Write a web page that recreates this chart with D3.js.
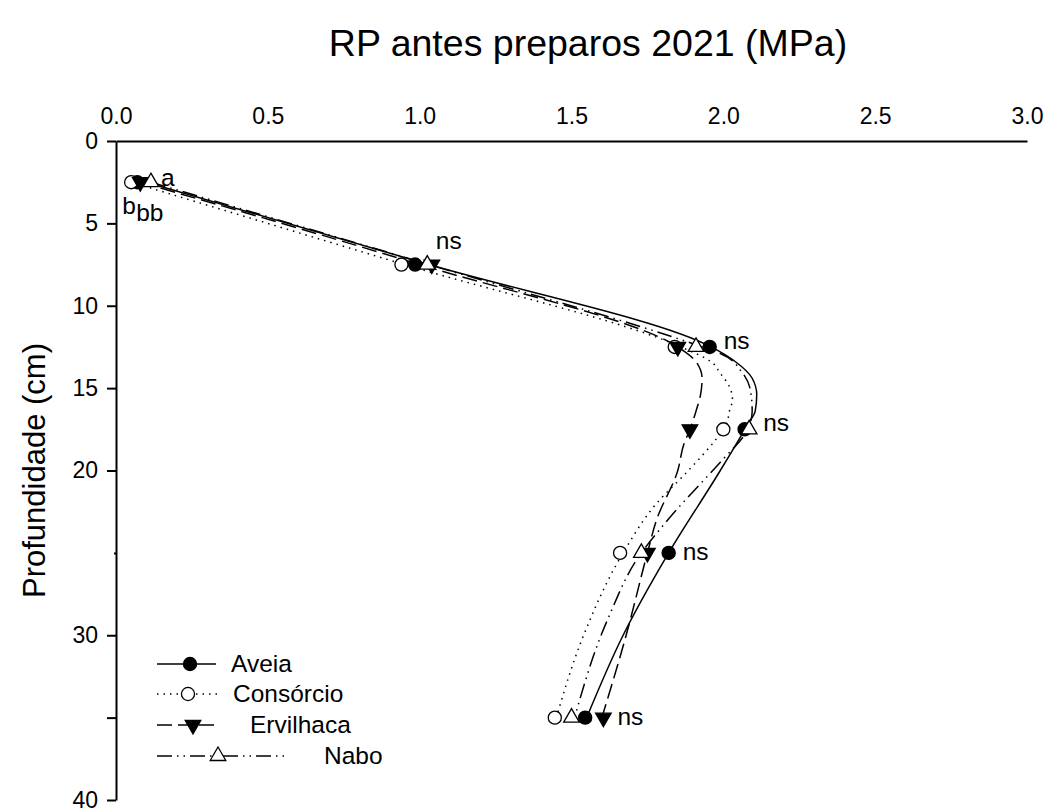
<!DOCTYPE html>
<html lang="pt">
<head>
<meta charset="UTF-8">
<title>RP antes preparos 2021</title>
<script src="https://d3js.org/d3.v7.min.js"></script>
<style>
  body { margin: 0; background: #fff; }
  svg { font-family: "Liberation Sans", Arial, sans-serif; }
  .axis path, .axis line { stroke: #000; stroke-width: 2px; }
  .axis text { font-size: 23px; fill: #000; }
  .fit { fill: none; stroke: #000; stroke-width: 1.5px; }
  .lbl { font-size: 24.5px; fill: #000; }
</style>
</head>
<body>
<div id="chart"></div>
<script>
// depths (cm) where RP was measured
const depths = [2.5, 7.5, 12.5, 17.5, 25, 35];

const aveia     = [0.07, 0.985, 1.955, 2.07, 1.82, 1.545];
const consorcio = [0.05, 0.94, 1.84, 2.00, 1.66, 1.445];
const ervilhaca = [0.08, 1.04, 1.85, 1.89, 1.75, 1.605];
const nabo      = [0.115, 1.025, 1.91, 2.085, 1.73, 1.50];

// fitted curves (depth, MPa)
const fitAveiaDepth = [2.5, 7.5, 12.5, 13.4, 14.4, 15.4, 16.4, 17.2, 18, 20, 25, 30, 35];
const fitAveia      = [0.10, 1.03, 1.96, 2.04, 2.095, 2.11, 2.105, 2.08, 2.055, 1.99, 1.82, 1.67, 1.55];
const fitConsDepth  = [2.5, 7.5, 12.5, 13.4, 14.1, 14.9, 15.7, 16.4, 17.2, 18, 20, 22, 25, 30, 35];
const fitCons       = [0.05, 0.95, 1.86, 1.96, 1.99, 2.02, 2.03, 2.02, 2.01, 1.98, 1.885, 1.78, 1.67, 1.54, 1.45];
const fitErvDepth   = [2.5, 7.5, 12.5, 13.4, 14.4, 15.4, 16.4, 17.5, 18.4, 20, 23, 25, 30, 35];
const fitErv        = [0.08, 1.0, 1.85, 1.91, 1.93, 1.925, 1.91, 1.89, 1.87, 1.85, 1.78, 1.75, 1.68, 1.60];
const fitNaboDepth  = [2.5, 7.5, 12.5, 12.9, 14, 15.2, 16.4, 17.5, 19.5, 20.9, 22.3, 23.6, 25, 29, 35];
const fitNabo       = [0.115, 1.03, 1.93, 1.99, 2.06, 2.09, 2.095, 2.08, 1.99, 1.92, 1.85, 1.79, 1.73, 1.62, 1.51];

// significance letters per depth
const sigLabels = ["", "ns", "ns", "ns", "ns", "ns"];

const xTicks = [0, 0.5, 1.0, 1.5, 2.0, 2.5, 3.0];
const yTicks = [0, 5, 10, 15, 20, 25, 30, 35, 40];
const yLabelled = [0, 5, 10, 15, 20, 30, 40];

const series = [
  { name: "Aveia", values: aveia, fitD: fitAveiaDepth, fitV: fitAveia, dash: null, sym: d3.symbolCircle, fill: "#000", rot: 0 },
  { name: "Consórcio", values: consorcio, fitD: fitConsDepth, fitV: fitCons, dash: "1.5,5", sym: d3.symbolCircle, fill: "#fff", rot: 0 },
  { name: "Ervilhaca", values: ervilhaca, fitD: fitErvDepth, fitV: fitErv, dash: "15,6", sym: d3.symbolTriangle, fill: "#000", rot: 180 },
  { name: "Nabo", values: nabo, fitD: fitNaboDepth, fitV: fitNabo, dash: "15,5,1.5,5,1.5,5", sym: d3.symbolTriangle, fill: "#fff", rot: 0 }
];

const W = 1055, H = 812;
const x = d3.scaleLinear().domain([0, 3]).range([116, 1027]);
const y = d3.scaleLinear().domain([0, 40]).range([141, 800]);

const svg = d3.select("#chart").append("svg")
  .attr("width", W).attr("height", H);

svg.append("rect").attr("width", W).attr("height", H).attr("fill", "#fff");

// title
svg.append("text")
  .attr("x", 588).attr("y", 56)
  .attr("text-anchor", "middle")
  .style("font-size", "37.5px")
  .text("RP antes preparos 2021 (MPa)");

// axes
svg.append("g").attr("class", "axis")
  .attr("transform", `translate(0,${y(0)})`)
  .call(d3.axisTop(x).tickValues(xTicks).tickSize(0).tickPadding(17).tickFormat(d3.format(".1f")))
  .call(g => g.selectAll("line").remove());

const yAxis = svg.append("g").attr("class", "axis")
  .attr("transform", `translate(${x(0)},0)`)
  .call(d3.axisLeft(y).tickValues(yTicks).tickSize(9).tickSizeOuter(0).tickPadding(9)
    .tickFormat(d => yLabelled.includes(d) ? d : ""));
yAxis.selectAll(".tick").filter(d => d === 25).select("line").attr("x2", -2);

svg.append("text")
  .attr("transform", `translate(45,${y(20)}) rotate(-90)`)
  .attr("text-anchor", "middle")
  .style("font-size", "31px")
  .text("Profundidade (cm)");

// fitted curves
const line = d3.line()
  .x(d => x(d[1]))
  .y(d => y(d[0]))
  .curve(d3.curveMonotoneY);

series.forEach(s => {
  svg.append("path")
    .datum(s.fitD.map((d, i) => [d, s.fitV[i]]))
    .attr("class", "fit")
    .attr("stroke-dasharray", s.dash)
    .attr("d", line);
});

// markers
function marker(g, s, cx, cy) {
  const size = s.sym === d3.symbolCircle ? 135 : 105;
  g.append("path")
    .attr("d", d3.symbol().type(s.sym).size(size)())
    .attr("transform", `translate(${cx},${cy}) rotate(${s.rot})`)
    .attr("fill", s.fill)
    .attr("stroke", "#000")
    .attr("stroke-width", 1.3);
}

series.forEach(s => {
  s.values.forEach((v, i) => marker(svg, s, x(v), y(depths[i])));
});

// significance labels
const rowMax = depths.map((d, i) => d3.max(series, s => s.values[i]));
depths.forEach((d, i) => {
  if (!sigLabels[i]) return;
  const above = i === 1;
  svg.append("text").attr("class", "lbl")
    .attr("x", above ? x(rowMax[i]) + 4 : x(rowMax[i]) + 14)
    .attr("y", above ? y(d) - 16 : y(d) + (i < 4 ? 2 : 7))
    .text(sigLabels[i]);
});
// letters at first depth
svg.append("text").attr("class", "lbl")
  .attr("x", x(nabo[0]) + 10).attr("y", y(depths[0]) + 4).text("a");
svg.append("text").attr("class", "lbl")
  .attr("x", x(consorcio[0]) - 9).attr("y", y(depths[0]) + 32).text("b");
svg.append("text").attr("class", "lbl")
  .attr("x", x(consorcio[0]) + 5).attr("y", y(depths[0]) + 39).text("bb");

// legend
const legendLayout = [
  { y: 664, x1: 157, x2: 216, mx: 190, tx: 231 },
  { y: 694, x1: 157, x2: 220, mx: 188, tx: 233 },
  { y: 725, x1: 157, x2: 219, mx: 193, tx: 250 },
  { y: 756, x1: 157, x2: 287, mx: 218, tx: 324 }
];
series.forEach((s, i) => {
  const L = legendLayout[i];
  svg.append("line")
    .attr("x1", L.x1).attr("x2", L.x2).attr("y1", L.y).attr("y2", L.y)
    .attr("class", "fit")
    .attr("stroke-dasharray", s.dash);
  marker(svg, s, L.mx, L.y);
  svg.append("text").attr("class", "lbl")
    .attr("x", L.tx).attr("y", L.y + 8)
    .text(s.name);
});
</script>
</body>
</html>
